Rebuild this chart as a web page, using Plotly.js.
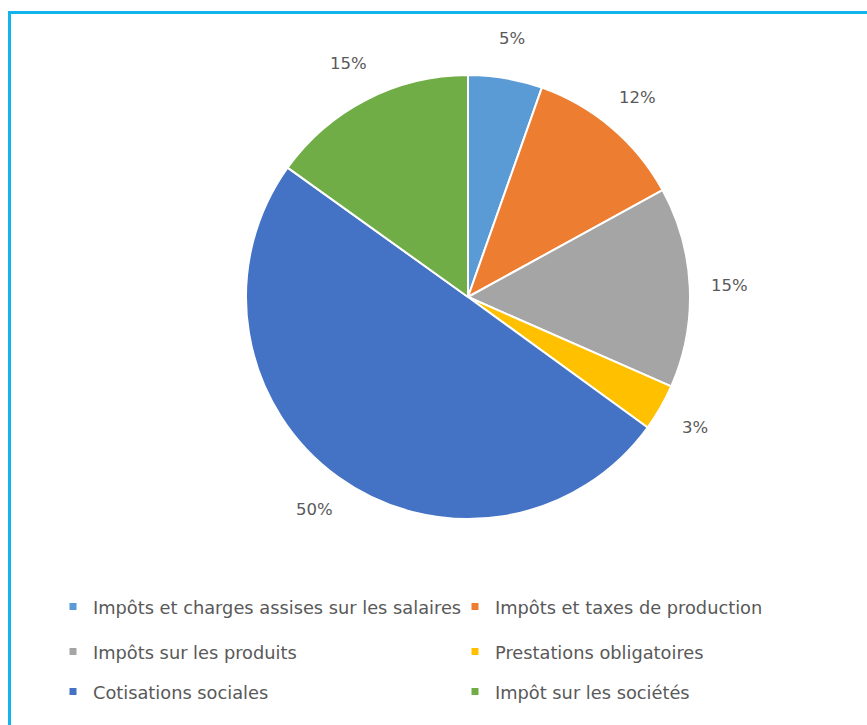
<!DOCTYPE html>
<html>
<head>
<meta charset="utf-8">
<script src="https://cdn.plot.ly/plotly-3.0.1.min.js"></script>
<style>
  html, body { margin: 0; padding: 0; background: #ffffff; }
  #chart { width: 867px; height: 725px; }
</style>
</head>
<body>
<div id="chart"></div>
<script>
// Categories (legend order = slice order, clockwise from 12 o'clock)
const categories = [
  "Impôts et charges assises sur les salaires",
  "Impôts et taxes de production",
  "Impôts sur les produits",
  "Prestations obligatoires",
  "Cotisations sociales",
  "Impôt sur les sociétés"
];
// Shares (%)
const shares = [5.4, 11.6, 14.6, 3.4, 49.9, 15.1];
const colors = ["#5B9BD5", "#ED7D31", "#A5A5A5", "#FFC000", "#4472C4", "#70AD47"];
// legend rows: which legend each category belongs to
const legendOf = ["legend", "legend", "legend2", "legend2", "legend3", "legend3"];

const W = 867, H = 725;
const cx = 468, cy = 297, r = 222;   // pie centre / radius in px
const labelR = 262;                  // data-label distance from centre (px)

const pie = {
  type: "pie",
  labels: categories,
  values: shares,
  sort: false,
  direction: "clockwise",
  rotation: 0,
  marker: { colors: colors, line: { color: "#ffffff", width: 2 } },
  textinfo: "none",
  domain: { x: [(cx - r) / W, (cx + r) / W], y: [1 - (cy + r) / H, 1 - (cy - r) / H] },
  showlegend: false,
  hoverinfo: "label+percent"
};

// Legend entries (one per category) on hidden axes
const legendTraces = categories.map((c, i) => ({
  type: "scatter",
  mode: "markers",
  x: [null], y: [null],
  name: c,
  marker: { symbol: "square", size: 7, color: colors[i] },
  legend: legendOf[i],
  showlegend: true,
  hoverinfo: "skip"
}));

// Data labels placed outside each slice, at the slice's mid-angle
const total = shares.reduce((a, b) => a + b, 0);
let cum = 0;
const labelAnnotations = shares.map((v) => {
  const mid = (cum + v / 2) / total * 2 * Math.PI;
  cum += v;
  const px = cx + labelR * Math.sin(mid);
  const py = cy - labelR * Math.cos(mid);
  return {
    xref: "paper", yref: "paper",
    x: px / W, y: 1 - py / H,
    xanchor: "center", yanchor: "middle",
    text: Math.round(v / total * 100) + "%",
    showarrow: false,
    font: { family: "DejaVu Sans, sans-serif", size: 16.5, color: "#595959" }
  };
});

const legendFont = { family: "DejaVu Sans, sans-serif", size: 17.8, color: "#595959" };
function mkLegend(ypx) {
  return {
    orientation: "h",
    x: 53 / W, xanchor: "left",
    y: 1 - ypx / H, yanchor: "middle",
    font: legendFont,
    entrywidth: 357,
    entrywidthmode: "pixels",
    bgcolor: "rgba(0,0,0,0)",
    borderwidth: 0,
    itemclick: false, itemdoubleclick: false
  };
}

const layout = {
  width: W, height: H,
  margin: { l: 0, r: 0, t: 0, b: 0 },
  paper_bgcolor: "#ffffff",
  plot_bgcolor: "#ffffff",
  xaxis: { visible: false, range: [0, 1] },
  yaxis: { visible: false, range: [0, 1] },
  legend: mkLegend(607),
  legend2: mkLegend(652),
  legend3: mkLegend(692),
  annotations: labelAnnotations,
  shapes: [
    { type: "path", xref: "paper", yref: "paper",
      path: `M ${9.5 / W},0 L ${9.5 / W},${1 - 12.5 / H} L 1,${1 - 12.5 / H}`,
      line: { color: "#12B4EC", width: 3 } }
  ]
};

Plotly.newPlot("chart", [pie, ...legendTraces], layout, { displayModeBar: false, staticPlot: true });
</script>
</body>
</html>
